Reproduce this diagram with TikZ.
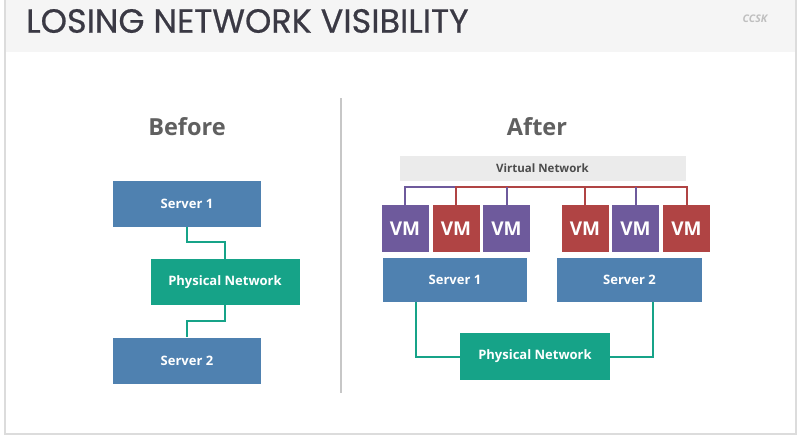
\documentclass[tikz,border=0pt]{standalone}
\usepackage{fontspec}
\setmainfont{Open Sans}
\newfontfamily\titlefont{Poppins}[FakeBold=0.6]
\usetikzlibrary{positioning}

\definecolor{serverblue}{RGB}{79,129,176}
\definecolor{netgreen}{RGB}{22,163,136}
\definecolor{vmpurple}{RGB}{110,90,156}
\definecolor{vmred}{RGB}{176,68,68}
\definecolor{headgray}{RGB}{245,245,245}
\definecolor{framegray}{RGB}{220,220,220}
\definecolor{labelgray}{RGB}{96,96,96}
\definecolor{titleink}{RGB}{58,57,68}

\begin{document}
\begin{tikzpicture}[x=1pt,y=-1pt,
  box/.style={fill=serverblue,minimum width=148pt,minimum height=46pt,inner sep=0pt,
    text=white,font=\bfseries\fontsize{13}{15}\selectfont},
  netbox/.style={box,fill=netgreen,minimum width=149pt},
  vm/.style={minimum width=47pt,minimum height=47pt,inner sep=0pt,text=white,
    font=\bfseries\fontsize{19}{22}\selectfont},
  vmp/.style={vm,fill=vmpurple},
  vmr/.style={vm,fill=vmred},
  heading/.style={text=labelgray,font=\bfseries\fontsize{23.5}{27}\selectfont},
  wire/.style={draw=netgreen,line width=2pt},
  pwire/.style={draw=vmpurple,line width=2pt},
  rwire/.style={draw=vmred,line width=2pt}]

  % page, header band and frame
  \useasboundingbox (0,0) rectangle (803,440);
  \fill[white] (0,0) rectangle (803,440);
  \fill[headgray] (5,0) rectangle (796,52);
  \draw[framegray,line width=1.5pt] (5,0) -- (5,434) -- (796,434) -- (796,0);
  \node[anchor=west,text=titleink,inner sep=0pt] (title) at (26,21)
    {\titlefont\fontsize{33.5}{37}\selectfont LOSING NETWORK VISIBILITY};
  \node[text=black!25,font=\bfseries\itshape\fontsize{10.5}{12}\selectfont] (tag) at (755,19) {CCSK};

  % divider
  \draw[black!22,line width=2pt] (341,98) -- (341,393);

  % before
  \node[heading] (before) at (187,127) {Before};
  \node[box] (s1) at (187,203.5) {Server 1};
  \node[netbox] (pn) at (225,282) {Physical Network};
  \node[box] (s2) at (187,360.5) {Server 2};
  \draw[wire] (s1.south) -- ++(0,15) -| (pn.north);
  \draw[wire] (pn.south) -- ++(0,16) -| (s2.north);

  % after
  \node[heading] (after) at (537,127) {After};
  \node[fill=black!8,minimum width=286pt,minimum height=25pt,inner sep=0pt,
    text=black!70,font=\bfseries\fontsize{11.5}{13}\selectfont] (vnet) at (542.5,168.5) {Virtual Network};
  \coordinate (bus) at (542,187);

  \node[vmp] (vm1) at (405,228.5) {VM};
  \node[vmr] (vm2) at (456,228.5) {VM};
  \node[vmp] (vm3) at (506.5,228.5) {VM};
  \node[vmr] (vm4) at (585,228.5) {VM};
  \node[vmp] (vm5) at (635.5,228.5) {VM};
  \node[vmr] (vm6) at (686.5,228.5) {VM};

  \node[box,minimum width=144pt,minimum height=44pt] (rs1) at (455,280) {Server 1};
  \node[box,minimum width=145pt,minimum height=44pt] (rs2) at (629.5,280) {Server 2};
  \node[netbox,minimum width=150pt,minimum height=47pt] (rpn) at (535,356.5) {Physical Network};

  % virtual network wiring
  \draw[pwire] (vm1.north) |- (vm2.north |- bus);
  \draw[rwire] (vm2.north) -- (vm2.north |- bus) -- (vm6.north |- bus) -- (vm6.north);
  \draw[pwire] (vm3.north) -- (vm3.north |- bus);
  \draw[rwire] (vm4.north) -- (vm4.north |- bus);
  \draw[pwire] (vm5.north) -- (vm5.north |- bus);

  % physical wiring
  \draw[wire] (rs1.south west) ++(33,0) |- (rpn.west);
  \draw[wire] (rs2.south east) ++(-49,0) |- (rpn.east);

\end{tikzpicture}
\end{document}
